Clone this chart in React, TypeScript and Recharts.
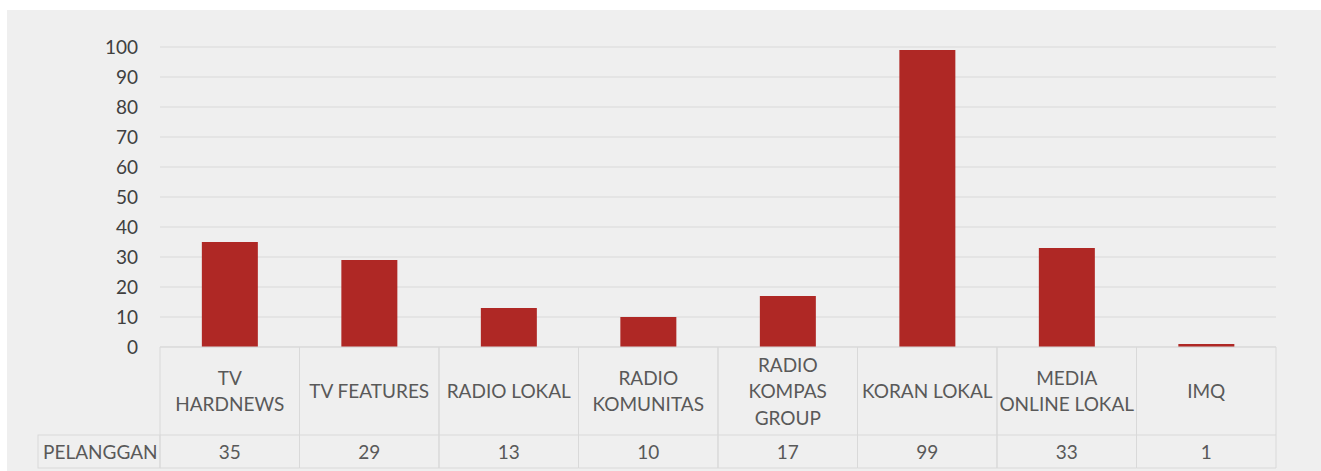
import React from "react";
import { BarChart, Bar, XAxis, YAxis, CartesianGrid } from "recharts";

const categories: string[] = [
  "TV HARDNEWS",
  "TV FEATURES",
  "RADIO LOKAL",
  "RADIO KOMUNITAS",
  "RADIO KOMPAS GROUP",
  "KORAN LOKAL",
  "MEDIA ONLINE LOKAL",
  "IMQ",
];
const categoryLines: string[][] = [
  ["TV", "HARDNEWS"],
  ["TV FEATURES"],
  ["RADIO LOKAL"],
  ["RADIO", "KOMUNITAS"],
  ["RADIO", "KOMPAS", "GROUP"],
  ["KORAN LOKAL"],
  ["MEDIA", "ONLINE LOKAL"],
  ["IMQ"],
];
const pelanggan: number[] = [35, 29, 13, 10, 17, 99, 33, 1];
const yTicks: number[] = [0, 10, 20, 30, 40, 50, 60, 70, 80, 90, 100];
const seriesName = "PELANGGAN";

const data = categories.map((c, i) => ({ name: c, value: pelanggan[i] }));

const FONT = "Lato, 'Open Sans', sans-serif";
const CHART_W = 1314;
const CHART_H = 461;
const MARGIN = { top: 37, right: 45, left: 0, bottom: 0 };
const Y_W = 153;
const PLOT_W = CHART_W - MARGIN.right - MARGIN.left - Y_W;
const CELL = PLOT_W / categories.length;
const HEADER_H = 88;
const VALUE_H = 33;
const LABEL_W = 122;
const BORDER = "#d9d9d9";
const TEXT = "#595959";
const FS = 19;
const LINE_H = 26.5;
const CAP_HALF = 7.2;

const CellTick = (props: any) => {
  const { x, y, payload, index } = props;
  const lines = categoryLines[index] || [String(payload.value)];
  const left = x - CELL / 2;
  const right = x + CELL / 2;
  const headerCenter = y + HEADER_H / 2;
  const valueCenter = y + HEADER_H + VALUE_H / 2;
  const firstBase = headerCenter - ((lines.length - 1) * LINE_H) / 2 + CAP_HALF;
  const bottom = y + HEADER_H + VALUE_H;
  return (
    <g>
      <line x1={left} y1={y} x2={left} y2={bottom} stroke={BORDER} strokeWidth={1} />
      <line x1={right} y1={y} x2={right} y2={bottom} stroke={BORDER} strokeWidth={1} />
      <line x1={left} y1={y + HEADER_H} x2={right} y2={y + HEADER_H} stroke={BORDER} strokeWidth={1} />
      <line x1={left} y1={bottom} x2={right} y2={bottom} stroke={BORDER} strokeWidth={1} />
      {lines.map((l, i) => (
        <text
          key={i}
          x={x}
          y={firstBase + i * LINE_H}
          textAnchor="middle"
          fill={TEXT}
          fontSize={FS}
          fontFamily={FONT}
        >
          {l}
        </text>
      ))}
      <text x={x} y={valueCenter + CAP_HALF} textAnchor="middle" fill={TEXT} fontSize={FS} fontFamily={FONT}>
        {pelanggan[index]}
      </text>
      {index === 0 && (
        <g>
          <rect
            x={left - LABEL_W}
            y={y + HEADER_H}
            width={LABEL_W}
            height={VALUE_H}
            fill="none"
            stroke={BORDER}
            strokeWidth={1}
          />
          <text
            x={left - LABEL_W + 5}
            y={valueCenter + CAP_HALF}
            textAnchor="start"
            fill={TEXT}
            fontSize={FS}
            fontFamily={FONT}
          >
            {seriesName}
          </text>
        </g>
      )}
    </g>
  );
};

export default function App() {
  return (
    <div
      style={{
        position: "absolute",
        left: 0,
        top: 0,
        width: 1321,
        height: 471,
        background: "#ffffff",
        fontFamily: FONT,
      }}
    >
      <div
        style={{
          position: "absolute",
          left: 7,
          top: 10,
          width: CHART_W,
          height: CHART_H,
          background: "#efefef",
        }}
      >
        <BarChart
          width={CHART_W}
          height={CHART_H}
          data={data}
          margin={MARGIN}
          barCategoryGap="30%"
        >
          <CartesianGrid vertical={false} stroke={BORDER} strokeWidth={1} />
          <XAxis
            dataKey="name"
            interval={0}
            height={CHART_H - MARGIN.top - 300}
            tickLine={false}
            tickSize={0}
            tickMargin={0}
            axisLine={{ stroke: BORDER }}
            tick={(p: any) => <CellTick {...p} />}
          />
          <YAxis
            width={Y_W}
            domain={[0, 100]}
            ticks={yTicks}
            interval={0}
            axisLine={false}
            tickLine={false}
            tickSize={0}
            tickMargin={22}
            tick={{ fill: "#404040", fontSize: FS, fontFamily: FONT }}
          />
          <Bar dataKey="value" fill="#af2825" isAnimationActive={false} />
        </BarChart>
      </div>
    </div>
  );
}
